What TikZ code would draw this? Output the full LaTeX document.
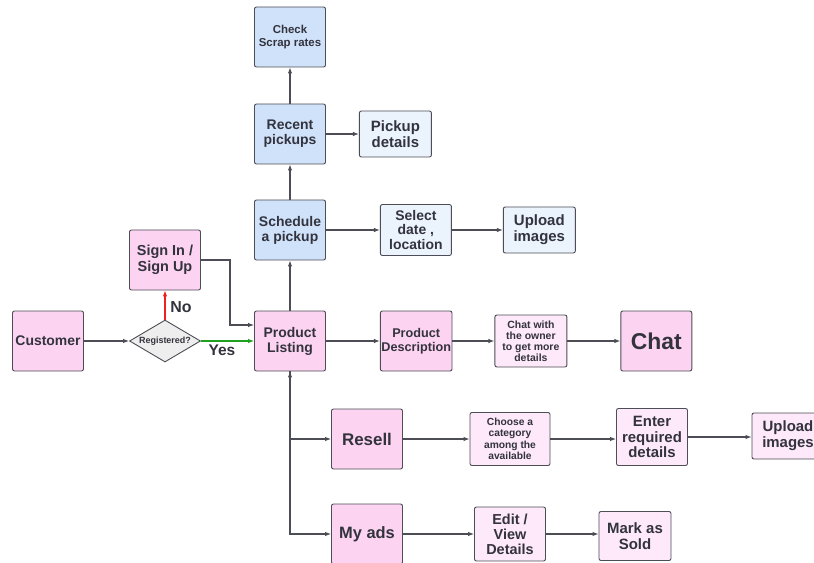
\documentclass[tikz,border=0pt]{standalone}
\usepackage{fontspec}
\setmainfont{Liberation Sans}
\usepackage{tikz}
\usetikzlibrary{positioning, shapes.geometric, arrows.meta}
\definecolor{pinkfill}{HTML}{FCD4F2}
\definecolor{lightpink}{HTML}{FDE9F9}
\definecolor{bluefill}{HTML}{CFE2FA}
\definecolor{lightblue}{HTML}{EBF3FD}
\definecolor{greyfill}{HTML}{EEEEEE}
\definecolor{edge}{HTML}{4D4D55}
\definecolor{txt}{HTML}{33333D}
\definecolor{yesgreen}{HTML}{1FA01F}
\definecolor{nored}{HTML}{F02020}
\newcommand{\fsz}[2]{\fontsize{#1}{#2}\selectfont}

\begin{document}
\begin{tikzpicture}[x=1bp, y=-1bp, node distance=54bp, block/.style={rectangle,draw=edge,line width=0.9bp,rounded corners=2bp,minimum width=71bp,minimum height=60bp,inner sep=1bp,align=center,text=txt,font=\fsz{14}{15}}, block2/.style={block, minimum width=72bp, minimum height=46bp}, link/.style={-{Latex[length=6bp,width=4.5bp]}, edge, line width=1.1bp} ]
\useasboundingbox (0,0) rectangle (814,563);
\node (scrap) [block, fill=bluefill, font=\fsz{11.5}{13}] at (290,37) {\textbf{Check}\\\textbf{Scrap rates}};
\node (recent) [block, fill=bluefill] at (290,134) {\textbf{Recent}\\\textbf{pickups}};
\node (pdetails) [block2, fill=lightblue, font=\fsz{15}{16}, right=33bp of recent] {\textbf{Pickup}\\\textbf{details}};
\node (sched) [block, fill=bluefill] at (290,230) {\textbf{Schedule}\\\textbf{a pickup}};
\node (date) [block, minimum height=51bp, fill=lightblue, right=54bp of sched] {\textbf{Select}\\\textbf{date ,}\\\textbf{location}};
\node (upload1) [block2, fill=lightblue, font=\fsz{15}{16}, right=51bp of date] {\textbf{Upload}\\\textbf{images}};
\node (signin) [block, fill=pinkfill, font=\fsz{14.5}{16}] at (165,260) {\textbf{Sign In /}\\\textbf{Sign Up}};
\node (cust) [block, fill=pinkfill] at (48,341) {\textbf{Customer}};
\node (reg) [diamond, draw=edge, fill=greyfill, line width=0.9bp, minimum width=71bp, minimum height=42bp, inner sep=0pt, aspect=1.7, text=txt, font=\fsz{9}{10}] at (165,341) {\textbf{Registered?}};
\node (plist) [block, fill=pinkfill] at (290,341) {\textbf{Product}\\\textbf{Listing}};
\node (pdesc) [block, fill=pinkfill, font=\fsz{12.7}{14}, right=54bp of plist] {\textbf{Product}\\\textbf{Description}};
\node (owner) [block, minimum width=72bp, minimum height=52bp, fill=lightpink, font=\fsz{10.5}{11}, right=42bp of pdesc] {\textbf{Chat with}\\\textbf{the owner}\\\textbf{to get more}\\\textbf{details}};
\node (chat) [block, fill=pinkfill, font=\fsz{23}{25}, right=53bp of owner] {\textbf{Chat}};
\node (resell) [block, fill=pinkfill, font=\fsz{17}{19}] at (367,439) {\textbf{Resell}};
\node (categ) [block, minimum width=80bp, minimum height=53bp, fill=lightpink, font=\fsz{10.3}{11.5}] at (510,439) {\textbf{Choose a}\\\textbf{category}\\\textbf{among the}\\\textbf{available}};
\node (enter) [block, minimum height=57bp, fill=lightpink, font=\fsz{15}{15.5}] at (652,437) {\textbf{Enter}\\\textbf{required}\\\textbf{details}};
\node (upload2) [block2, fill=lightpink, font=\fsz{15}{16}] at (788,436) {\textbf{Upload}\\\textbf{images}};
\node (myads) [block, fill=pinkfill, font=\fsz{16.5}{18}] at (367,534) {\textbf{My ads}};
\node (edit) [block, minimum height=54bp, fill=lightpink, font=\fsz{14.5}{15}] at (510,534) {\textbf{Edit /}\\\textbf{View}\\\textbf{Details}};
\node (sold) [block2, minimum height=49bp, fill=lightpink, font=\fsz{15}{16}] at (635,536) {\textbf{Mark as}\\\textbf{Sold}};
  \begin{scope}
    \draw [link] (cust) -- (reg);
    \draw [link, yesgreen] (reg) -- (plist);
    \draw [link, nored] (reg) -- (signin);
    \draw [link] (signin.east) -- ++(29,0) |- ([yshift=16bp]plist.west);
    \draw [link] (plist) -- (sched);
    \draw [link] (sched) -- (recent);
    \draw [link] (recent) -- (scrap);
    \draw [link] (recent) -- (pdetails);
    \draw [link] (sched) -- (date);
    \draw [link] (date) -- (upload1);
    \draw [link] (plist) -- (pdesc);
    \draw [link] (pdesc) -- (owner);
    \draw [link] (owner) -- (chat);
    \draw [link] (resell.west -| plist.south) -- (plist.south);
    \draw [link] (plist.south) |- (resell.west);
    \draw [link] (plist.south) |- (myads.west);
    \draw [link] (resell) -- (categ);
    \draw [link] (categ.east) -- (categ.east -| enter.west);
    \draw [link] (enter.east) -- (enter.east -| upload2.west);
    \draw [link] (myads) -- (edit);
    \draw [link] (edit.east) -- (edit.east -| sold.west);
    \node (no) [text=txt, font=\fsz{16}{18}] at (181,307) {\textbf{No}};
    \node (yes) [text=txt, font=\fsz{15.5}{17}] at (222,350) {\textbf{Yes}};
  \end{scope}
\end{tikzpicture}
\end{document}
